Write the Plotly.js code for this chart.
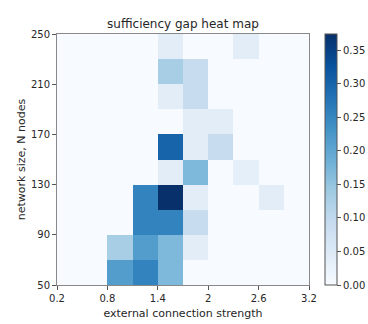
<!DOCTYPE html>
<html>
<head>
<meta charset="utf-8">
<script src="https://cdn.plot.ly/plotly-3.0.1.min.js"></script>
<style>html,body{margin:0;padding:0;background:#fff;}#chart{width:368px;height:324px;}</style>
</head>
<body>
<div id="chart"></div>
<script>
// cell centres
var connectionStrength = [0.35, 0.65, 0.95, 1.25, 1.55, 1.85, 2.15, 2.45, 2.75, 3.05];
var networkSize = [60, 80, 100, 120, 140, 160, 180, 200, 220, 240];
// sufficiency gap, one row per network size (bottom to top)
var gapN60  = [0, 0, 0.215, 0.255, 0.17, 0, 0, 0, 0, 0];
var gapN80  = [0, 0, 0.13, 0.215, 0.17, 0.04, 0, 0, 0, 0];
var gapN100 = [0, 0, 0, 0.255, 0.255, 0.09, 0, 0, 0, 0];
var gapN120 = [0, 0, 0, 0.255, 0.374, 0.04, 0, 0, 0.04, 0];
var gapN140 = [0, 0, 0, 0, 0.04, 0.17, 0, 0.035, 0, 0];
var gapN160 = [0, 0, 0, 0, 0.30, 0.04, 0.09, 0, 0, 0];
var gapN180 = [0, 0, 0, 0, 0, 0.04, 0.04, 0, 0, 0];
var gapN200 = [0, 0, 0, 0, 0.04, 0.09, 0, 0, 0, 0];
var gapN220 = [0, 0, 0, 0, 0.13, 0.09, 0, 0, 0, 0];
var gapN240 = [0, 0, 0, 0, 0.04, 0, 0, 0.04, 0, 0];
var xTicks = [0.2, 0.8, 1.4, 2, 2.6, 3.2];
var yTicks = [50, 90, 130, 170, 210, 250];

var blues = [
  [0.0, '#f7fbff'], [0.125, '#deebf7'], [0.25, '#c6dbef'], [0.375, '#9ecae1'],
  [0.5, '#6baed6'], [0.625, '#4292c6'], [0.75, '#2171b5'], [0.875, '#08519c'], [1.0, '#08306b']
];

var textColor = '#262626';
var trace = {
  type: 'heatmap',
  x: connectionStrength,
  y: networkSize,
  z: [gapN60, gapN80, gapN100, gapN120, gapN140, gapN160, gapN180, gapN200, gapN220, gapN240],
  colorscale: blues,
  zmin: 0,
  zmax: 0.374,
  hoverinfo: 'skip',
  colorbar: {
    x: 1.063, xanchor: 'left',
    y: 0, yanchor: 'bottom', len: 1, lenmode: 'fraction',
    thickness: 12, xpad: 0, ypad: 0,
    outlinewidth: 1, outlinecolor: '#555',
    tick0: 0, dtick: 0.05, tickformat: '.2f',
    ticks: 'outside', ticklen: 4, tickcolor: '#555',
    tickfont: {family: 'DejaVu Sans', size: 10, color: textColor}
  }
};

var layout = {
  width: 368, height: 324,
  margin: {l: 57, r: 59, t: 34, b: 39, pad: 0, autoexpand: false},
  paper_bgcolor: '#fff', plot_bgcolor: '#fff',
  font: {family: 'DejaVu Sans', color: textColor},
  title: {text: 'sufficiency gap heat map', x: 0.5, xref: 'paper', xanchor: 'center', y: 1, yref: 'paper', yanchor: 'bottom', pad: {b: 6},
          font: {family: 'DejaVu Sans', size: 12, color: textColor}},
  xaxis: {
    range: [0.2, 3.2], tickvals: xTicks, ticktext: xTicks.map(String),
    ticks: 'outside', ticklen: 4, tickcolor: '#555',
    showline: true, linecolor: '#888', linewidth: 1, mirror: true,
    showgrid: false, zeroline: false, automargin: false,
    tickfont: {size: 10, color: textColor},
    title: {text: 'external connection strength', font: {size: 11, color: textColor}, standoff: 6}
  },
  yaxis: {
    range: [50, 250], tickvals: yTicks, ticktext: yTicks.map(String),
    ticks: 'outside', ticklen: 4, tickcolor: '#555',
    showline: true, linecolor: '#888', linewidth: 1, mirror: true,
    showgrid: false, zeroline: false, automargin: false,
    tickfont: {size: 10, color: textColor},
    title: {text: 'network size, N nodes', font: {size: 11, color: textColor}, standoff: 3}
  }
};

Plotly.newPlot('chart', [trace], layout, {displayModeBar: false, staticPlot: true});
</script>
</body>
</html>
